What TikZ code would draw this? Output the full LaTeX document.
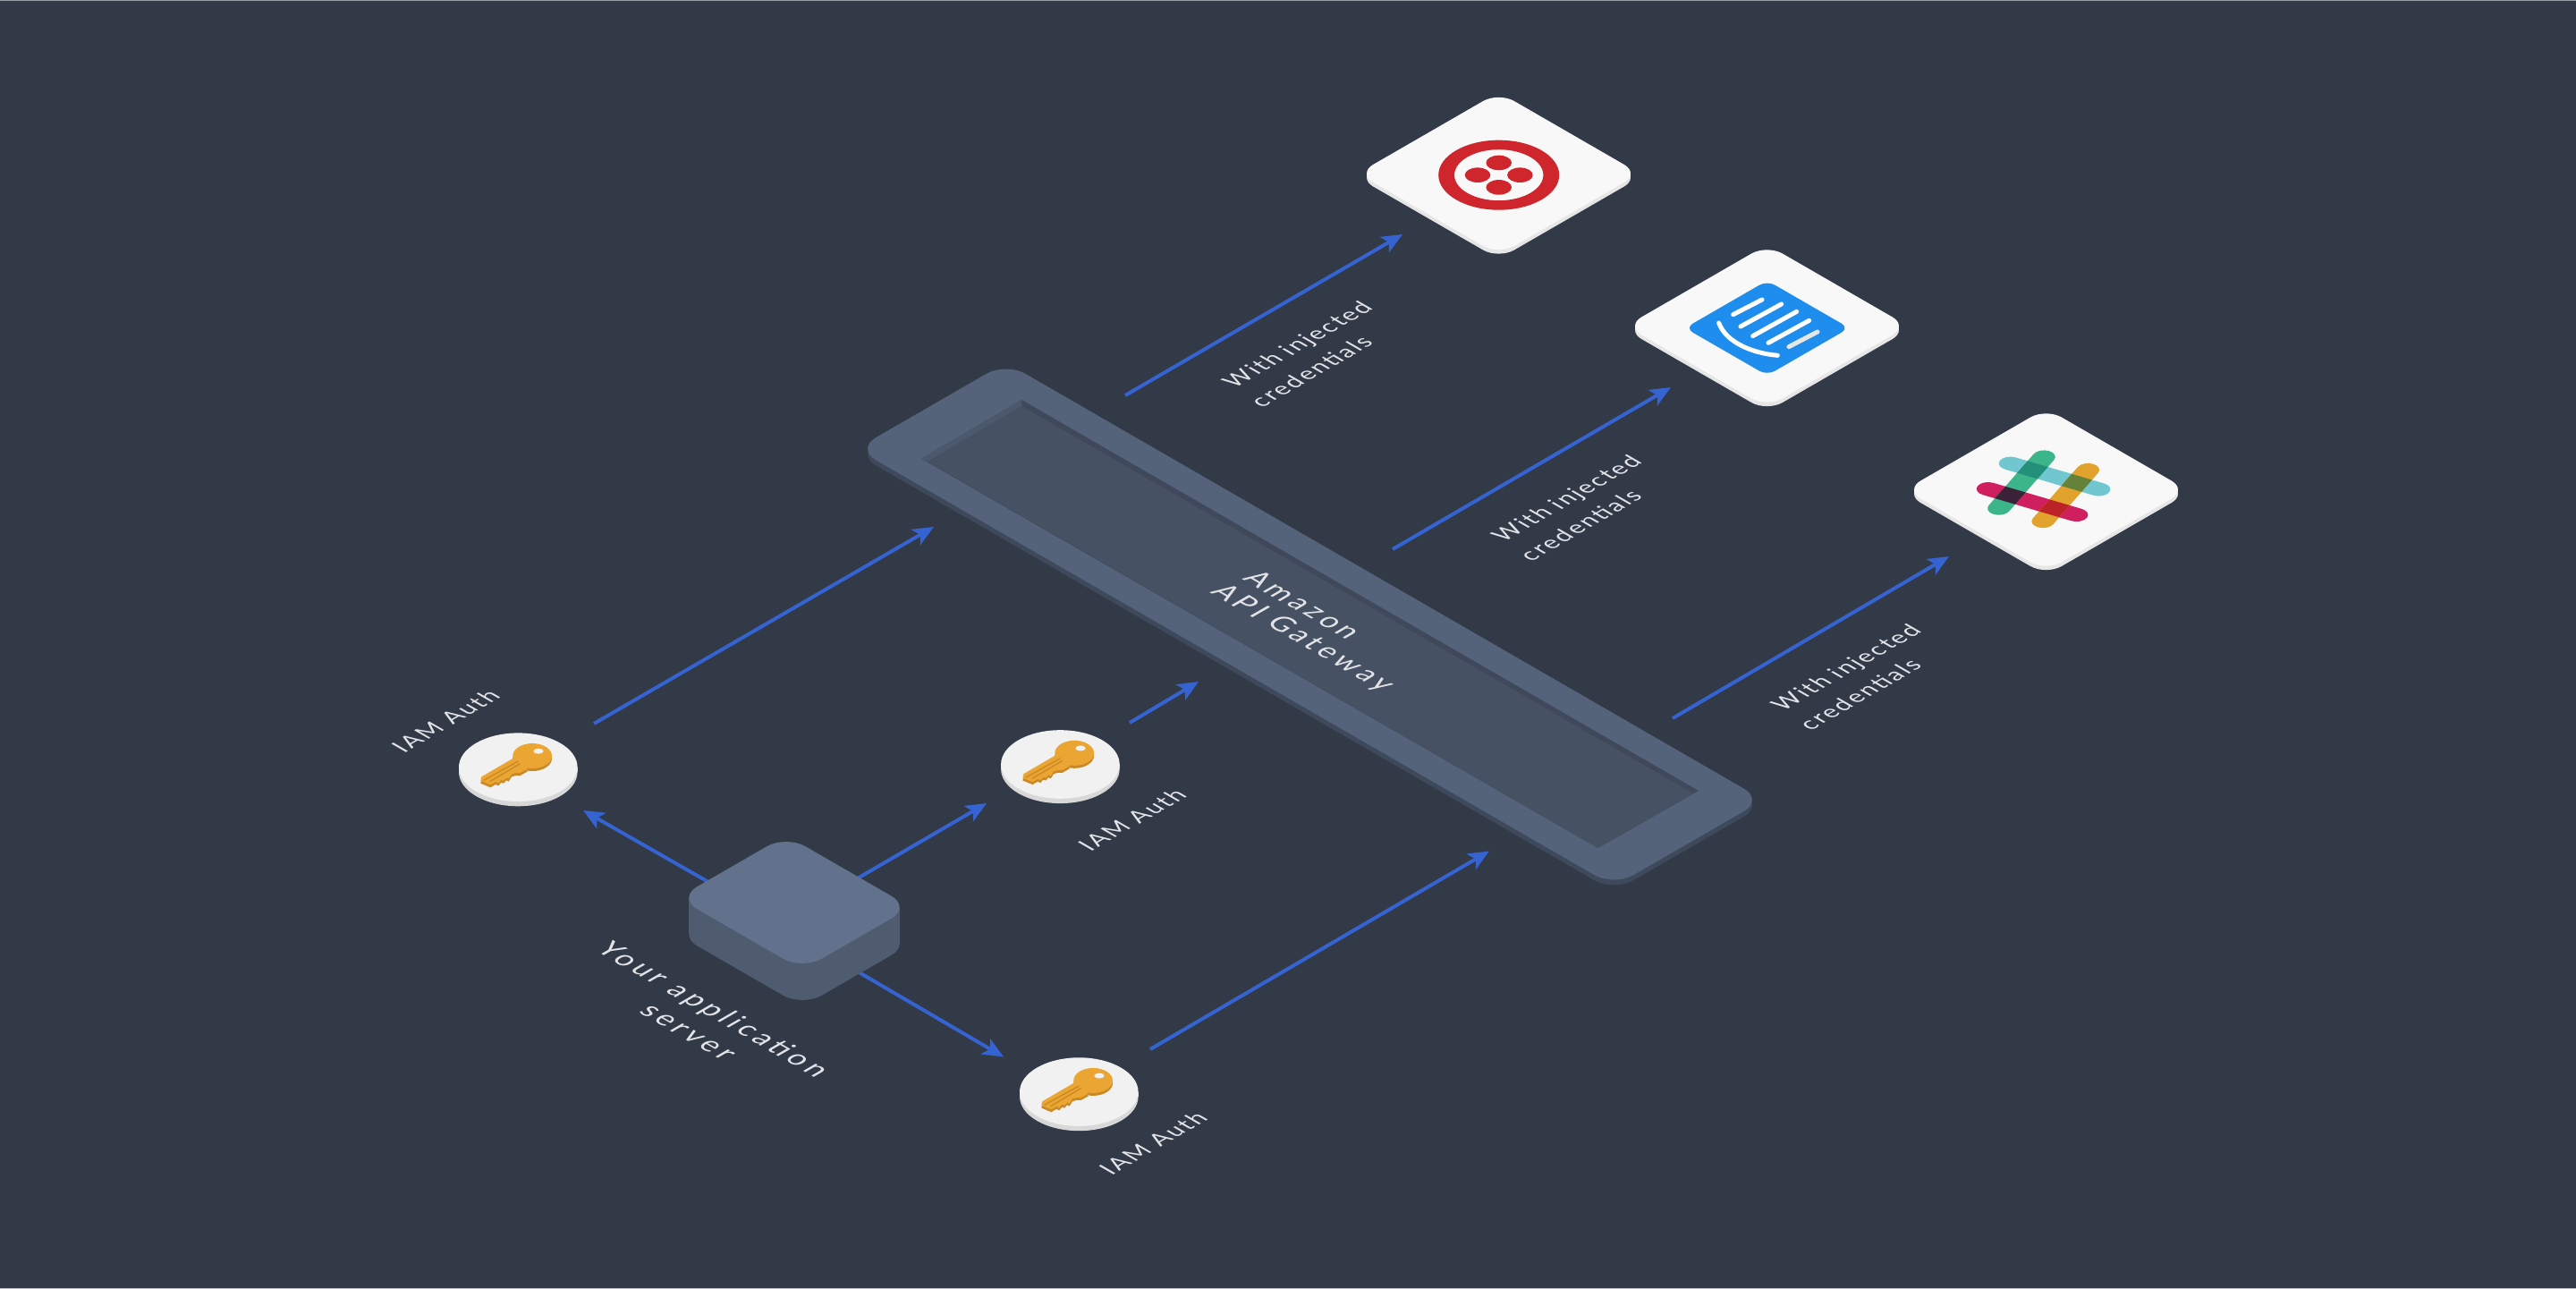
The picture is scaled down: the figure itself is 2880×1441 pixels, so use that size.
\documentclass[tikz,border=0pt]{standalone}
\usepackage{fontspec}
\setmainfont{Lato}
\newfontfamily\labelfont{Lato}[LetterSpace=8.0]
\newfontfamily\biglabelfont{Lato}[LetterSpace=14.0]
\usetikzlibrary{arrows.meta}
\definecolor{bgc}{HTML}{323947}
\definecolor{arrowc}{HTML}{3563D2}
\definecolor{txtc}{HTML}{E2E4E8}
\definecolor{tiletop}{HTML}{F8F8F8}
\definecolor{tileside}{HTML}{E6E6E6}
\definecolor{disctop}{HTML}{F1F1F1}
\definecolor{discside}{HTML}{D8D8D8}
\definecolor{srvtop}{HTML}{62728C}
\definecolor{srvside}{HTML}{4F5C70}
\definecolor{gwtop}{HTML}{55637A}
\definecolor{gwside}{HTML}{3F495C}
\definecolor{gwfloor}{HTML}{465163}
\definecolor{gwwalla}{HTML}{4C586C}
\definecolor{gwwallb}{HTML}{3F495B}
\definecolor{keytop}{HTML}{EBA532}
\definecolor{keyside}{HTML}{C98A25}
\definecolor{twred}{HTML}{CF262D}
\definecolor{icblue}{HTML}{1F8DED}
\definecolor{slteal}{HTML}{70C7D0}
\definecolor{slgreen}{HTML}{3CB58A}
\definecolor{slyellow}{HTML}{E2A32E}
\definecolor{slmag}{HTML}{CF1F5E}
\definecolor{slTG}{HTML}{24907A}
\definecolor{slTY}{HTML}{65823A}
\definecolor{slMG}{HTML}{3B2238}
\definecolor{slMY}{HTML}{BB2327}
\definecolor{edgetop}{HTML}{9A9EA6}
\definecolor{edgebot}{HTML}{C0C2C6}
\tikzset{
  isobasis/.style={x={(0.2165pt,-0.125pt)},y={(0.2165pt,0.125pt)}},
  flow/.style={draw=arrowc,line width=1pt,-{Stealth[length=5.8pt,width=5pt,inset=1.4pt]}},
  smalltext/.style={text=txtc,inner sep=0pt,font=\labelfont\fontsize{6.6}{8.6}\selectfont,transform shape},
  bigtext/.style={text=txtc,inner sep=0pt,font=\biglabelfont\fontsize{8}{9}\selectfont,transform shape},
  icbar/.style={draw=white,line width=1.25pt,line cap=round},
}
% x, y, half-length a, half-length b, corner, fill
\newcommand{\isoslab}[6]{%
  \begin{scope}[shift={(#1,#2)},isobasis]
    \fill[#6,rounded corners=#5] (-#3,-#4)--(#3,-#4)--(#3,#4)--(-#3,#4)--cycle;
  \end{scope}}
\newcommand{\isotile}[3]{% name x y
  \fill[tileside] (#2-147.5,#3)--(#2+147.5,#3)--(#2+147.5,#3+4.5)--(#2-147.5,#3+4.5)--cycle;
  \isoslab{#2}{#3+4.5}{91}{91}{5pt}{tileside}
  \isoslab{#2}{#3}{91}{91}{5pt}{tiletop}
  \coordinate (#1) at (#2,#3);}
\newcommand{\risingtext}[5]{% name x y style text
  \begin{scope}[shift={(#2,#3)},cm={0.866,0.5,-0.866,0.5,(0,0)}]
    \node[#4] (#1) at (0,0) {#5};
  \end{scope}}
\newcommand{\fallingtext}[5]{%
  \begin{scope}[shift={(#2,#3)},cm={0.866,-0.5,0.866,0.5,(0,0)}]
    \node[#4] (#1) at (0,0) {#5};
  \end{scope}}
\newcommand{\keydisc}[3]{% name x y
  \fill[discside] (#2-66.3,#3)--(#2+66.3,#3)--(#2+66.3,#3+5.3)--(#2-66.3,#3+5.3)--cycle;
  \fill[discside] (#2,#3+5.3) ellipse [x radius=66.3,y radius=38.3];
  \fill[disctop] (#2,#3) ellipse [x radius=66.3,y radius=38.3];
  \begin{scope}[shift={(#2,#3)},x=0.08333pt,y=-0.08333pt]
    \begin{scope}[yshift=-0.75pt]
      \fill[keyside] (47.5,-38) ellipse [x radius=65.5,y radius=42];
      \fill[keyside] (-15,-31)--(-123,32)--(-126,45)--(-93,59)--(-76,49)--(-66,53)--(-58,43)--(-48,45)--(-40,35)--(-32,39)--(-22,23)--(-8,19)--(7,19)--(32,5)--cycle;
    \end{scope}
    \fill[keytop] (47.5,-38) ellipse [x radius=65.5,y radius=42];
    \fill[keytop] (-15,-31)--(-123,32)--(-126,45)--(-93,59)--(-76,49)--(-66,53)--(-58,43)--(-48,45)--(-40,35)--(-32,39)--(-22,23)--(-8,19)--(7,19)--(32,5)--cycle;
    \draw[keyside,line width=0.35pt] (0,-20)--(-116,44);
    \draw[keyside,line width=0.35pt] (7,-12)--(-95,48);
    \fill[disctop] (68,-54) ellipse [x radius=17,y radius=9];
  \end{scope}
  \coordinate (#1) at (#2,#3);}
\newcommand{\credlabel}[3]{% name dx dy from the first label
  \risingtext{#1a}{1452+#2}{386+#3}{smalltext}{With injected}
  \risingtext{#1b}{1465.5+#2}{415+#3}{smalltext}{credentials}}
\begin{document}
\begin{tikzpicture}[x=0.25pt,y=-0.25pt]
\useasboundingbox (0,0) rectangle (2880,1441);
\fill[bgc] (0,0) rectangle (2880,1441);
\fill[edgetop] (0,0) rectangle (2880,1);
\fill[edgebot] (0,1440) rectangle (2880,1441);
% gateway
\fill[gwside] (971,502)--(1957,894)--(1957,900)--(971,508)--cycle;
\isoslab{1464.5}{704}{489}{96.5}{6.25pt}{gwside}
\isoslab{1464.5}{698}{489}{96.5}{6.25pt}{gwtop}
\fill[gwwallb] (1142.3,447)--(1899,884)--(1786.5,948)--(1030,512.7)--cycle;
\fill[gwwalla] (1142.3,447)--(1142.3,454)--(1037.3,516)--(1030,512.7)--cycle;
\fill[gwfloor] (1142.3,454)--(1893,887)--(1786.5,948)--(1037.3,516)--cycle;
\fallingtext{gwAmazon}{1457}{675.5}{bigtext}{Amazon}
\fallingtext{gwApi}{1456.3}{713.3}{bigtext}{API Gateway}
% tiles
\isotile{twilio}{1675.5}{194}
\fill[twred,even odd rule] (1675.7,195.7) ellipse [x radius=67.5,y radius=39] (1675.7,195.7) ellipse [x radius=49.7,y radius=28.5];
\fill[twred] (1675.7,182) ellipse [x radius=14.3,y radius=8.3];
\fill[twred] (1675.7,209.4) ellipse [x radius=14.3,y radius=8.3];
\fill[twred] (1652,195.7) ellipse [x radius=14.3,y radius=8.3];
\fill[twred] (1699.4,195.7) ellipse [x radius=14.3,y radius=8.3];
\isotile{intercom}{1975.5}{364.5}
\isoslab{1975.7}{366.7}{53}{53}{2.5pt}{icblue}
\begin{scope}[shift={(1810,260)},x=0.08333pt,y=-0.08333pt]
  \draw[icbar] (383,275)--(480,225);
  \draw[icbar] (408,315)--(545,240);
  \draw[icbar] (449,347)--(596,265);
  \draw[icbar] (501,370)--(638,295);
  \draw[icbar,tileside] (570,383)--(666,333);
  \draw[icbar] (335,303) .. controls (360,370) and (450,405) .. (532,412);
\end{scope}
\isotile{slack}{2287.5}{547.5}
\begin{scope}[shift={(2287.33,547.33)},x={(2.833pt,-0.833pt)},y={(-1.458pt,-1.667pt)}]
  \newcommand{\capsH}[2]{\fill[#1] (-4.6,#2-1)--(4.15,#2-1)--(4.15,#2+1)--(-4.6,#2+1)--cycle (-4.6,#2) circle [radius=1] (4.15,#2) circle [radius=1];}
  \newcommand{\capsV}[2]{\fill[#1] (#2-1,-4.27)--(#2+1,-4.27)--(#2+1,4.34)--(#2-1,4.34)--cycle (#2,-4.27) circle [radius=1] (#2,4.34) circle [radius=1];}
  \newcommand{\capsX}[3]{\fill[#1] (#2-1,#3-1)--(#2+1,#3-1)--(#2+1,#3+1)--(#2-1,#3+1)--cycle;}
  \capsH{slteal}{-2.1}
  \capsH{slmag}{2.17}
  \capsV{slgreen}{-2.4}
  \capsV{slyellow}{1.95}
  \capsX{slTG}{-2.4}{-2.1}
  \capsX{slTY}{1.95}{-2.1}
  \capsX{slMG}{-2.4}{2.17}
  \capsX{slMY}{1.95}{2.17}
\end{scope}
% key discs
\keydisc{keya}{579.3}{857.7}
\keydisc{keyb}{1185.4}{854.5}
\keydisc{keyc}{1206.3}{1220.6}
% connector ends
\coordinate (srvA) at (800,990.6);
\coordinate (srvB) at (950,987);
\coordinate (srvC) at (950,1081);
\coordinate (tipA) at (652,906);
\coordinate (tipB) at (1103,898);
\coordinate (tipC) at (1122,1181.5);
\coordinate (fromA) at (664,809);
\coordinate (gwA) at (1044,589);
\coordinate (fromB) at (1263,808);
\coordinate (gwB) at (1340,762);
\coordinate (fromC) at (1286,1173);
\coordinate (gwC) at (1665,951.5);
\coordinate (outA) at (1258,442);
\coordinate (twTip) at (1568,262);
\coordinate (outB) at (1557,614);
\coordinate (icTip) at (1868,433);
\coordinate (outC) at (1870,803);
\coordinate (slTip) at (2179,622);
\draw[flow] (srvA)--(tipA);
\draw[flow] (srvB)--(tipB);
\draw[flow] (srvC)--(tipC);
\draw[flow] (fromA)--(gwA);
\draw[flow] (fromB)--(gwB);
\draw[flow] (fromC)--(gwC);
\draw[flow] (outA)--(twTip);
\draw[flow] (outB)--(icTip);
\draw[flow] (outC)--(slTip);
% server
\fill[srvside] (770,1003)--(1006,1015)--(1006,1056)--(770,1044)--cycle;
\isoslab{888}{1050}{80.5}{70}{6.25pt}{srvside}
\isoslab{888}{1009}{80.5}{70}{6.25pt}{srvtop}
% labels
\risingtext{lbA}{498}{806}{smalltext}{IAM Auth}
\risingtext{lbB}{1265.5}{916.5}{smalltext}{IAM Auth}
\risingtext{lbC}{1289}{1278}{smalltext}{IAM Auth}
\credlabel{lbT}{0}{0}
\credlabel{lbI}{301}{172}
\credlabel{lbS}{613.5}{361}
\fallingtext{lbSrvA}{796.5}{1129.5}{bigtext}{Your application}
\fallingtext{lbSrvB}{768}{1154.5}{bigtext}{server}
\end{tikzpicture}
\end{document}
